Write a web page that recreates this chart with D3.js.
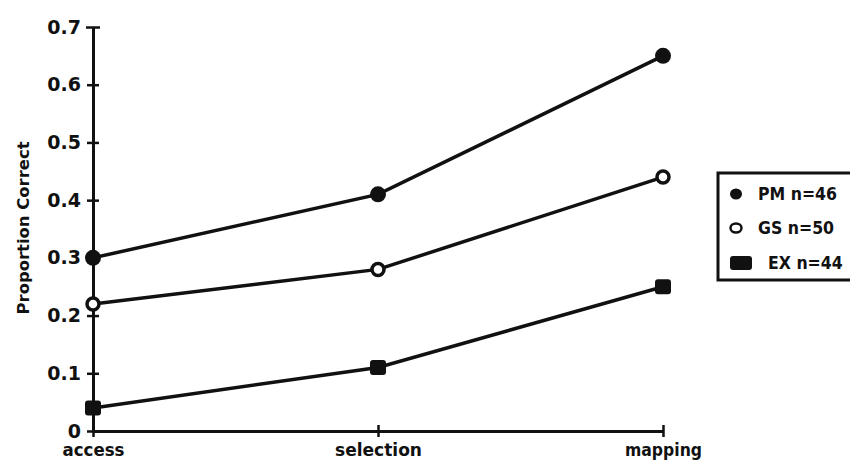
<!DOCTYPE html>
<html>
<head>
<meta charset="utf-8">
<script src="https://cdn.jsdelivr.net/npm/d3@7"></script>
<style>
  body { margin: 0; background: #fff; }
  svg { display: block; }
  text { font-family: "DejaVu Sans Condensed", "DejaVu Sans", sans-serif; font-weight: bold; fill: #111; }
</style>
</head>
<body>
<svg id="chart" width="850" height="463"></svg>
<script>
const categories = ["access", "selection", "mapping"];
const seriesNames = ["PM n=46", "GS n=50", "EX n=44"];
const pmValues = [0.30, 0.41, 0.65];
const gsValues = [0.22, 0.28, 0.44];
const exValues = [0.04, 0.11, 0.25];
const yTicks = [0, 0.1, 0.2, 0.3, 0.4, 0.5, 0.6, 0.7];
const yTitle = "Proportion Correct";

const series = [
  { name: seriesNames[0], values: pmValues, marker: "filled" },
  { name: seriesNames[1], values: gsValues, marker: "open" },
  { name: seriesNames[2], values: exValues, marker: "square" }
];

const svg = d3.select("#chart");
const ink = "#111";

const x = d3.scalePoint().domain(categories).range([93, 663]);
const y = d3.scaleLinear().domain([0, 0.7]).range([431, 27]);

// Y axis
const yAxis = d3.axisLeft(y).tickValues(yTicks)
  .tickFormat(d => d === 0 ? "0" : d3.format(".1f")(d))
  .tickSizeInner(6).tickSizeOuter(0).tickPadding(6);
const gy = svg.append("g").attr("transform", `translate(${x(categories[0])},0)`).call(yAxis);
gy.select(".domain").attr("stroke", ink).attr("stroke-width", 3);
gy.selectAll(".tick line").attr("stroke", ink).attr("stroke-width", 2.5)
  .attr("x1", d => d === 0.7 ? 7 : 6).attr("x2", d => d === 0.7 ? -7 : -6);
gy.selectAll(".tick text").attr("font-size", 19).attr("fill", ink)
  .style("font-family", '"DejaVu Sans", sans-serif').style("font-weight", "bold");

// X axis
const xAxis = d3.axisBottom(x).tickSizeInner(0).tickSizeOuter(0).tickPadding(13);
const gx = svg.append("g").attr("transform", `translate(0,${y(0)})`).call(xAxis);
gx.select(".domain").attr("stroke", ink).attr("stroke-width", 3);
gx.selectAll(".tick line").attr("stroke", ink).attr("stroke-width", 2.5).attr("y1", -6).attr("y2", 6);
gx.selectAll(".tick text").attr("font-size", 17).attr("fill", ink)
  .attr("textLength", d => d === "selection" ? 87 : d === "mapping" ? 77 : 62)
  .attr("lengthAdjust", "spacingAndGlyphs");

// Y title
svg.append("text")
  .attr("transform", `translate(29,228) rotate(-90)`)
  .attr("text-anchor", "middle")
  .attr("font-size", 15)
  .attr("textLength", 173)
  .attr("lengthAdjust", "spacingAndGlyphs")
  .text(yTitle);

// Lines
const line = d3.line().x((d, i) => x(categories[i])).y(d => y(d));
series.forEach(s => {
  svg.append("path").datum(s.values)
    .attr("d", line).attr("fill", "none").attr("stroke", ink).attr("stroke-width", 3.5);
});

function drawMarker(g, type, cx, cy) {
  if (type === "filled") {
    g.append("circle").attr("cx", cx).attr("cy", cy).attr("r", 8).attr("fill", ink);
  } else if (type === "open") {
    g.append("circle").attr("cx", cx).attr("cy", cy).attr("r", 6).attr("fill", "#fff")
      .attr("stroke", ink).attr("stroke-width", 3.5);
  } else {
    g.append("rect").attr("x", cx - 8).attr("y", cy - 7.5).attr("width", 16).attr("height", 15)
      .attr("rx", 3).attr("fill", ink);
  }
}

series.forEach(s => {
  const g = svg.append("g");
  s.values.forEach((v, i) => drawMarker(g, s.marker, x(categories[i]), y(v)));
});

// Legend
const legend = svg.append("g");
legend.append("rect").attr("x", 718).attr("y", 173).attr("width", 150).attr("height", 107)
  .attr("fill", "#fff").attr("stroke", ink).attr("stroke-width", 3);
const legendY = [194, 228, 263];
const legendTextX = [758, 758, 768];
series.forEach((s, i) => {
  const mx = s.marker === "square" ? 741 : 736;
  if (s.marker === "square") {
    legend.append("rect").attr("x", mx - 11).attr("y", legendY[i] - 7).attr("width", 22).attr("height", 14)
      .attr("rx", 3).attr("fill", ink);
  } else if (s.marker === "filled") {
    legend.append("ellipse").attr("cx", mx).attr("cy", legendY[i]).attr("rx", 6).attr("ry", 5.5).attr("fill", ink);
  } else {
    legend.append("ellipse").attr("cx", mx).attr("cy", legendY[i]).attr("rx", 5.5).attr("ry", 4.5)
      .attr("fill", "#fff").attr("stroke", ink).attr("stroke-width", 2.5);
  }
  legend.append("text").attr("x", legendTextX[i]).attr("y", legendY[i])
    .attr("dy", "0.36em").attr("font-size", 17.5)
    .text(s.name);
});
</script>
</body>
</html>
